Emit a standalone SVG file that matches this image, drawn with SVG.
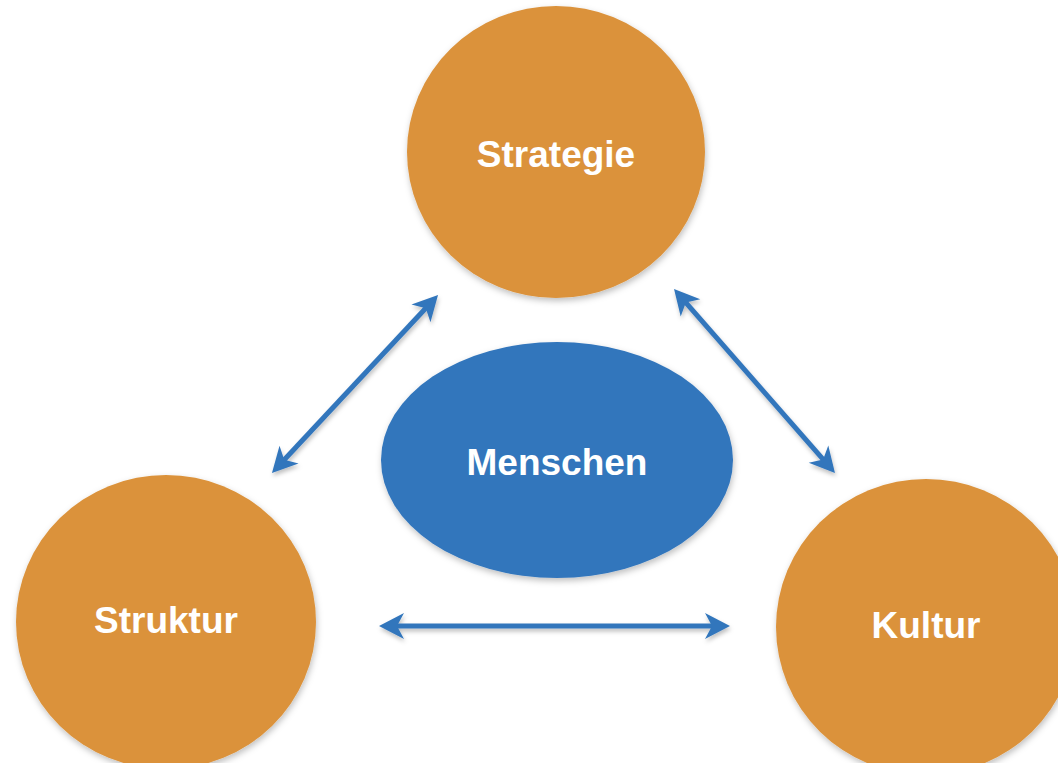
<svg xmlns="http://www.w3.org/2000/svg" width="1058" height="763" viewBox="0 0 1058 763">
<style>
.node{fill:#DB923B;filter:url(#sh);}
.core{fill:#3376BC;filter:url(#sh);}
.lbl{font-family:"Liberation Sans",Arial,sans-serif;font-weight:bold;font-size:37px;fill:#FFFFFF;text-anchor:middle;}
.con{stroke:#3376BC;stroke-width:5;fill:none;marker-start:url(#ah);marker-end:url(#ah);filter:url(#sh2);}
</style>
<defs>
<filter id="sh" x="-10%" y="-10%" width="120%" height="125%">
<feDropShadow dx="1" dy="3" stdDeviation="3" flood-color="#000" flood-opacity="0.25"/>
</filter>
<filter id="sh2" filterUnits="userSpaceOnUse" x="0" y="0" width="1058" height="763">
<feDropShadow dx="1" dy="3" stdDeviation="2" flood-color="#000" flood-opacity="0.25"/>
</filter>
<marker id="ah" markerUnits="userSpaceOnUse" viewBox="-12 -15 30 30" refX="0" refY="0" markerWidth="30" markerHeight="30" orient="auto-start-reverse">
<path d="M15,0 L-10,-13 L-3,0 L-10,13 Z" fill="#3376BC"/>
</marker>
</defs>
<g id="connectors">
<path class="con" d="M282.2,462 L427.8,306"/>
<path class="con" d="M683.9,300.3 L825.1,461.7"/>
<path class="con" d="M394,626 L715,626"/>
</g>
<g id="strategie">
<ellipse class="node" cx="556" cy="152" rx="149" ry="146"/>
<text class="lbl" x="556" y="167">Strategie</text>
</g>
<g id="menschen">
<ellipse class="core" cx="557" cy="460" rx="176" ry="118"/>
<text class="lbl" x="557" y="475">Menschen</text>
</g>
<g id="struktur">
<ellipse class="node" cx="166" cy="622" rx="150" ry="147"/>
<text class="lbl" x="166" y="633">Struktur</text>
</g>
<g id="kultur">
<ellipse class="node" cx="926" cy="627" rx="150" ry="148"/>
<text class="lbl" x="926" y="638">Kultur</text>
</g>
</svg>
